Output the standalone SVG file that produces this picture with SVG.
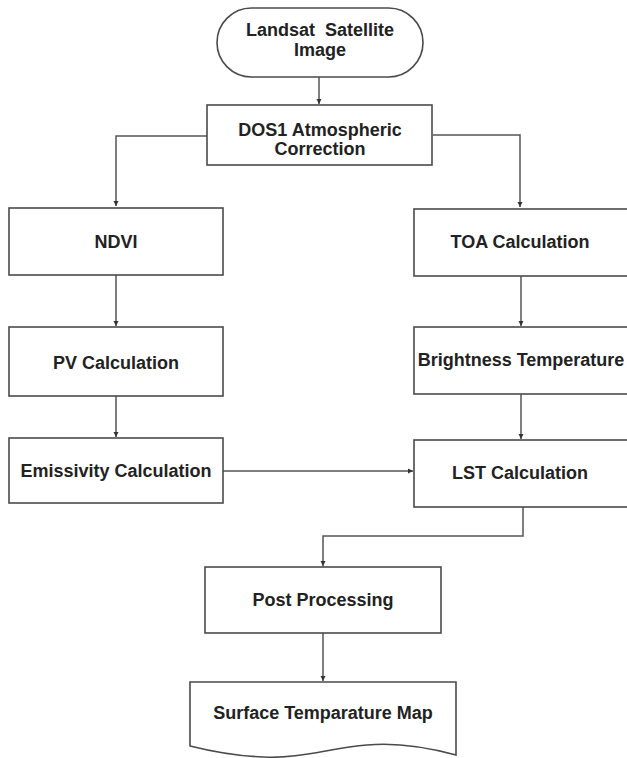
<svg xmlns="http://www.w3.org/2000/svg" width="627" height="758" viewBox="0 0 627 758">
<style>
.box{fill:#ffffff;stroke:#4a4a4a;stroke-width:1.6}
.t{font-family:"Liberation Sans",Arial,sans-serif;font-weight:bold;font-size:18px;fill:#222;text-anchor:middle}
.c{fill:none;stroke:#555;stroke-width:1.5}
</style>
<defs>
<marker id="ah" markerWidth="6" markerHeight="6" refX="5" refY="3" orient="auto" markerUnits="userSpaceOnUse">
<path d="M0,0.5 L5,3 L0,5.5 Z" fill="#333"/>
</marker>
</defs>
<rect width="627" height="758" fill="#ffffff"/>
<g id="connectors">
<path class="c" d="M319,77 V104" marker-end="url(#ah)"/>
<path class="c" d="M207,136 H116 V206" marker-end="url(#ah)"/>
<path class="c" d="M433,135 H520 V207" marker-end="url(#ah)"/>
<path class="c" d="M116,275 V326" marker-end="url(#ah)"/>
<path class="c" d="M116,396 V437" marker-end="url(#ah)"/>
<path class="c" d="M223,471 H413" marker-end="url(#ah)"/>
<path class="c" d="M521,276 V326" marker-end="url(#ah)"/>
<path class="c" d="M521,394 V439" marker-end="url(#ah)"/>
<path class="c" d="M523,507 V536 H323 V566" marker-end="url(#ah)"/>
<path class="c" d="M323,633 V681" marker-end="url(#ah)"/>
</g>
<g id="landsat">
<rect class="box" x="217" y="8" width="206" height="69" rx="34.5" ry="34.5"/>
<text class="t" x="320" y="35.5" xml:space="preserve">Landsat  Satellite</text>
<text class="t" x="320" y="56">Image</text>
</g>
<g id="dos1">
<rect class="box" x="207" y="105" width="225" height="60"/>
<text class="t" x="320" y="135.5">DOS1 Atmospheric</text>
<text class="t" x="320" y="155">Correction</text>
</g>
<g id="ndvi">
<rect class="box" x="9" y="208" width="214" height="67"/>
<text class="t" x="116" y="247.5">NDVI</text>
</g>
<g id="toa">
<rect class="box" x="414" y="209" width="216" height="67"/>
<text class="t" x="520" y="247.5">TOA Calculation</text>
</g>
<g id="pv">
<rect class="box" x="9" y="327" width="214" height="69"/>
<text class="t" x="116" y="368.5">PV Calculation</text>
</g>
<g id="bt">
<rect class="box" x="414" y="327" width="216" height="67"/>
<text class="t" x="521" y="365.5">Brightness Temperature</text>
</g>
<g id="emissivity">
<rect class="box" x="9" y="438" width="214" height="65"/>
<text class="t" x="116" y="476.5">Emissivity Calculation</text>
</g>
<g id="lst">
<rect class="box" x="414" y="440" width="216" height="67"/>
<text class="t" x="520" y="478.5">LST Calculation</text>
</g>
<g id="post">
<rect class="box" x="205" y="567" width="236" height="66"/>
<text class="t" x="323" y="605.5">Post Processing</text>
</g>
<g id="map">
<path class="box" d="M190,682 H456 V755 C430,748 400,742 367,745 C330,748 300,759 263,757 C235,756 210,751 190,746 Z"/>
<text class="t" x="323" y="719">Surface Temparature Map</text>
</g>
</svg>
